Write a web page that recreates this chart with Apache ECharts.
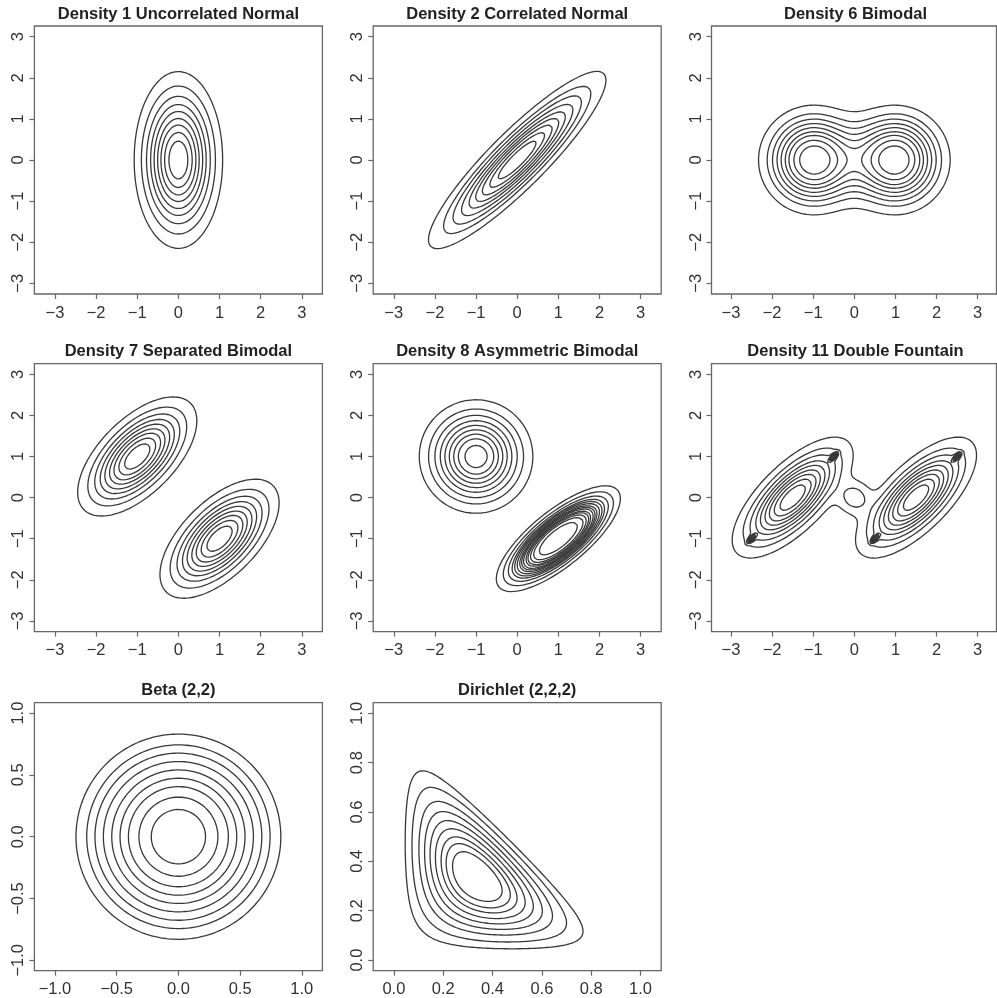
<!DOCTYPE html>
<html><head><meta charset="utf-8">
<script src="https://cdn.jsdelivr.net/npm/echarts@6/dist/echarts.min.js"></script>
<style>html,body{margin:0;padding:0;background:#fff}#c{width:997px;height:998px}</style>
</head><body><div id="c"></div>
<script>
// ================= DATA =================
const panelTitles = ['Density 1 Uncorrelated Normal', 'Density 2 Correlated Normal', 'Density 6 Bimodal',
  'Density 7 Separated Bimodal', 'Density 8 Asymmetric Bimodal', 'Density 11 Double Fountain',
  'Beta (2,2)', 'Dirichlet (2,2,2)'];

const densityTicks = [-3, -2, -1, 0, 1, 2, 3];
const betaTicks = [-1, -0.5, 0, 0.5, 1];
const dirichletTicks = [0, 0.2, 0.4, 0.6, 0.8, 1];

// Normal-mixture components: means, covariances [varX, covXY, varY], weights
const d1Means = [[0, 0]];
const d1Covs = [[0.25, 0, 1]];
const d1Weights = [1];
const d1CrossY = [0.46, 0.67, 0.85, 1.01, 1.18, 1.35, 1.55, 1.80, 2.15];   // contour crossings on x = 0

const d2Means = [[0, 0]];
const d2Covs = [[1, 0.9, 1]];
const d2Weights = [1];
const d2CrossY = [0.20, 0.29, 0.37, 0.44, 0.51, 0.59, 0.68, 0.78, 0.94];   // crossings on x = 0

const d6Means = [[-1, 0], [1, 0]];
const d6Covs = [[0.444, 0, 0.444], [0.444, 0, 0.444]];
const d6Weights = [0.5, 0.5];
const d6CrossX = [-2.33, -2.12, -1.99, -1.88, -1.78, -1.68, -1.59, -1.47, -1.33]; // crossings on y = 0

const d7Means = [[-1, 1], [1, -1]];
const d7Covs = [[0.444, 0.267, 0.444], [0.444, 0.267, 0.444]];
const d7Weights = [0.5, 0.5];
const d7CrossY = [1.245, 1.357, 1.453, 1.538, 1.629, 1.72, 1.826, 1.96, 2.157]; // crossings on x = -1

const d8CircleMeans = [[-1, 1]];
const d8CircleCovs = [[0.415, 0, 0.415]];
const d8CircleWeights = [1];
const d8CircleCrossX = [-1.27, -1.43, -1.543, -1.65, -1.757, -1.87, -2.0, -2.154, -2.38]; // on y = 1
const d8EllipseMeans = [[1, -1]];
const d8EllipseCovs = [[0.376, 0.2437, 0.2735]];
const d8EllipseWeights = [1];
const d8EllipseCrossX = [1.30, 1.39, 1.44, 1.48, 1.51, 1.55, 1.58, 1.61, 1.65, 1.69, 1.73, 1.79, 1.87, 1.98]; // on y = -1

const d11Means = [[-1.5, 0], [1.5, 0], [0, 0], [-2.5, -1], [-0.5, 1], [0.5, -1], [2.5, 1]];
const d11Covs = [[0.444, 0.311, 0.444], [0.444, 0.311, 0.444], [0.065, 0, 0.065],
  [0.0036, 0.0024, 0.0036], [0.0036, 0.0024, 0.0036], [0.0036, 0.0024, 0.0036], [0.0036, 0.0024, 0.0036]];
const d11Weights = [0.45, 0.45, 0.024, 0.003, 0.003, 0.003, 0.003];
const d11CrossX = [-1.72, -1.82, -1.905, -1.98, -2.06, -2.14, -2.24, -2.36, -2.55]; // on y = 0

const betaCrossX = [0.22, 0.32, 0.405, 0.473, 0.54, 0.608, 0.676, 0.743, 0.83];       // on y = 0
const dirichletCrossY = [0.051, 0.081, 0.111, 0.135, 0.158, 0.180, 0.203, 0.223, 0.248]; // on x = 0.33

// ================= density functions =================
function mixture(means, covs, weights) {
  return function (x, y) {
    let s = 0;
    for (let k = 0; k < means.length; k++) {
      const c = covs[k], dx = x - means[k][0], dy = y - means[k][1];
      const det = c[0] * c[2] - c[1] * c[1];
      const q = (c[2] * dx * dx - 2 * c[1] * dx * dy + c[0] * dy * dy) / det;
      s += weights[k] * Math.exp(-q / 2) / (2 * Math.PI * Math.sqrt(det));
    }
    return s;
  };
}
const betaDisk = (x, y) => Math.max(0, 1 - x * x - y * y);
const dirichlet = (x, y) => { const z = 1 - x - y; return (x > 0 && y > 0 && z > 0) ? x * y * z : 0; };

// ================= layout =================
const R1 = 26, R2 = 363.6, R3 = 702.7, H = 268;
const dR = [-3.26, 3.26];
const layout = [
  { l: 34.4, t: R1, w: 288, h: H, xr: [-3.5, 3.5], yr: dR, ticks: densityTicks, step: 0.02 },
  { l: 373.2, t: R1, w: 288, h: H, xr: [-3.5, 3.5], yr: dR, ticks: densityTicks, step: 0.02 },
  { l: 711.5, t: R1, w: 285, h: H, xr: [-3.474, 3.457], yr: dR, ticks: densityTicks, step: 0.02 },
  { l: 34.4, t: R2, w: 288, h: H, xr: [-3.5, 3.5], yr: dR, ticks: densityTicks, step: 0.02 },
  { l: 373.2, t: R2, w: 288, h: H, xr: [-3.5, 3.5], yr: dR, ticks: densityTicks, step: 0.015 },
  { l: 711.5, t: R2, w: 285, h: H, xr: [-3.474, 3.457], yr: dR, ticks: densityTicks, step: 0.008 },
  { l: 34.4, t: R3, w: 288, h: H, xr: [-1.167, 1.167], yr: [-1.084, 1.084], ticks: betaTicks, step: 0.005 },
  { l: 373.2, t: R3, w: 288, h: H, xr: [-0.084, 1.084], yr: [-0.043, 1.043], ticks: dirichletTicks, step: 0.003 }
];

const panelGroups = [
  [{ fn: mixture(d1Means, d1Covs, d1Weights), cross: d1CrossY.map(v => [0, v]) }],
  [{ fn: mixture(d2Means, d2Covs, d2Weights), cross: d2CrossY.map(v => [0, v]) }],
  [{ fn: mixture(d6Means, d6Covs, d6Weights), cross: d6CrossX.map(v => [v, 0]) }],
  [{ fn: mixture(d7Means, d7Covs, d7Weights), cross: d7CrossY.map(v => [-1, v]) }],
  [{ fn: mixture(d8CircleMeans, d8CircleCovs, d8CircleWeights), cross: d8CircleCrossX.map(v => [v, 1]) },
   { fn: mixture(d8EllipseMeans, d8EllipseCovs, d8EllipseWeights), cross: d8EllipseCrossX.map(v => [v, -1]) }],
  [{ fn: mixture(d11Means, d11Covs, d11Weights), cross: d11CrossX.map(v => [v, 0]) }],
  [{ fn: betaDisk, cross: betaCrossX.map(v => [v, 0]) }],
  [{ fn: dirichlet, cross: dirichletCrossY.map(v => [0.33, v]) }]
];

// ================= contouring (marching squares) =================
function buildField(fn, x0, x1, y0, y1, step) {
  const nx = Math.ceil((x1 - x0) / step), ny = Math.ceil((y1 - y0) / step);
  const xs = new Float64Array(nx + 1), ys = new Float64Array(ny + 1);
  for (let i = 0; i <= nx; i++) xs[i] = x0 + (x1 - x0) * i / nx;
  for (let j = 0; j <= ny; j++) ys[j] = y0 + (y1 - y0) * j / ny;
  const z = new Float64Array((nx + 1) * (ny + 1));
  for (let j = 0; j <= ny; j++) for (let i = 0; i <= nx; i++) z[j * (nx + 1) + i] = fn(xs[i], ys[j]);
  return { nx, ny, xs, ys, z };
}
function isoLines(F, L) {
  const { nx, ny, xs, ys, z } = F, W = nx + 1;
  const pts = new Map(), adj = new Map();
  const pt = (key, xa, ya, va, xb, yb, vb) => {
    if (!pts.has(key)) { const t = (L - va) / (vb - va); pts.set(key, [xa + t * (xb - xa), ya + t * (yb - ya)]); }
    return key;
  };
  const add = (a, b) => { let l = adj.get(a); if (!l) { l = []; adj.set(a, l); } l.push(b); };
  const link = (a, b) => { add(a, b); add(b, a); };
  for (let j = 0; j < ny; j++) for (let i = 0; i < nx; i++) {
    const k = j * W + i;
    const v0 = z[k], v1 = z[k + 1], v2 = z[k + W + 1], v3 = z[k + W];
    const b0 = v0 >= L, b1 = v1 >= L, b2 = v2 >= L, b3 = v3 >= L;
    if (b0 === b1 && b1 === b2 && b2 === b3) continue;
    const x0 = xs[i], x1 = xs[i + 1], y0 = ys[j], y1 = ys[j + 1];
    let eB = -1, eR = -1, eT = -1, eL = -1;
    if (b0 !== b1) eB = pt(2 * k, x0, y0, v0, x1, y0, v1);
    if (b1 !== b2) eR = pt(2 * (k + 1) + 1, x1, y0, v1, x1, y1, v2);
    if (b3 !== b2) eT = pt(2 * (k + W), x0, y1, v3, x1, y1, v2);
    if (b0 !== b3) eL = pt(2 * k + 1, x0, y0, v0, x0, y1, v3);
    const list = [eB, eR, eT, eL].filter(e => e >= 0);
    if (list.length === 2) link(list[0], list[1]);
    else if (list.length === 4) {
      const c = (v0 + v1 + v2 + v3) / 4 >= L;
      if (c === b0) { link(eB, eR); link(eT, eL); } else { link(eL, eB); link(eR, eT); }
    }
  }
  const lines = [];
  const walk = (s) => {
    const line = [pts.get(s)]; let cur = s;
    for (;;) {
      const nb = adj.get(cur); if (!nb || !nb.length) break;
      const nxt = nb.pop(); const back = adj.get(nxt); const idx = back.indexOf(cur);
      if (idx >= 0) back.splice(idx, 1);
      line.push(pts.get(nxt)); cur = nxt;
    }
    return line;
  };
  for (const [k, nb] of adj) if (nb.length === 1) lines.push(walk(k));
  for (const [k, nb] of adj) if (nb.length > 0) lines.push(walk(k));
  return lines;
}

// ================= chart =================
const FONT = '"Liberation Sans", Arial, Helvetica, sans-serif';
const BOX = '#666666', LINE = '#383838', TXT = '#333333';
const fmtInt = v => (v < 0 ? '\u2212' : '') + Math.abs(v);
const fmt1 = v => (v < -1e-9 ? '\u2212' : '') + Math.abs(v).toFixed(1);

const grids = [], xAxes = [], yAxes = [], titles = [], series = [];
layout.forEach((g, p) => {
  grids.push({ left: g.l, top: g.t, width: g.w, height: g.h, show: true, borderColor: BOX, borderWidth: 1.3,
    backgroundColor: 'transparent', containLabel: false, outerBoundsMode: 'none' });
  const fmt = g.ticks === densityTicks ? fmtInt : fmt1;
  const common = (ticks, rot, margin) => ({
    type: 'value', gridIndex: p, scale: true,
    axisLine: { show: false, onZero: false }, splitLine: { show: false },
    axisTick: { show: true, inside: false, length: 5, customValues: ticks, lineStyle: { color: BOX, width: 1.2 } },
    axisLabel: { show: true, customValues: ticks, formatter: fmt, margin: margin, rotate: rot,
      color: TXT, fontSize: 16.5, fontFamily: FONT }
  });
  xAxes.push(Object.assign(common(g.ticks, 0, 10.5), { min: g.xr[0], max: g.xr[1], position: 'bottom' }));
  yAxes.push(Object.assign(common(g.ticks, 90, 7), { min: g.yr[0], max: g.yr[1], position: 'left' }));
  titles.push({ text: panelTitles[p], left: g.l + g.w / 2 + (p % 3 === 2 ? 1.5 : 0), top: g.t - 20.5, textAlign: 'center', padding: 0,
    textStyle: { fontSize: 16.5, fontWeight: 'bold', fontFamily: FONT, color: '#222' } });
  panelGroups[p].forEach(grp => {
    const F = buildField(grp.fn, g.xr[0], g.xr[1], g.yr[0], g.yr[1], g.step);
    grp.cross.forEach(c => {
      const L = grp.fn(c[0], c[1]);
      isoLines(F, L).forEach(line => {
        if (line.length < 3) return;
        series.push({ type: 'line', xAxisIndex: p, yAxisIndex: p, data: line, symbol: 'none', showSymbol: false,
          silent: true, animation: false, smooth: false, clip: true,
          lineStyle: { color: LINE, width: 1.3, cap: 'round', join: 'round' } });
      });
    });
  });
});

const chart = echarts.init(document.getElementById('c'), null, { renderer: 'canvas' });
chart.setOption({
  backgroundColor: '#ffffff', animation: false,
  title: titles, grid: grids, xAxis: xAxes, yAxis: yAxes, series: series,
  tooltip: { show: false }, legend: { show: false }
});
</script>
</body></html>
